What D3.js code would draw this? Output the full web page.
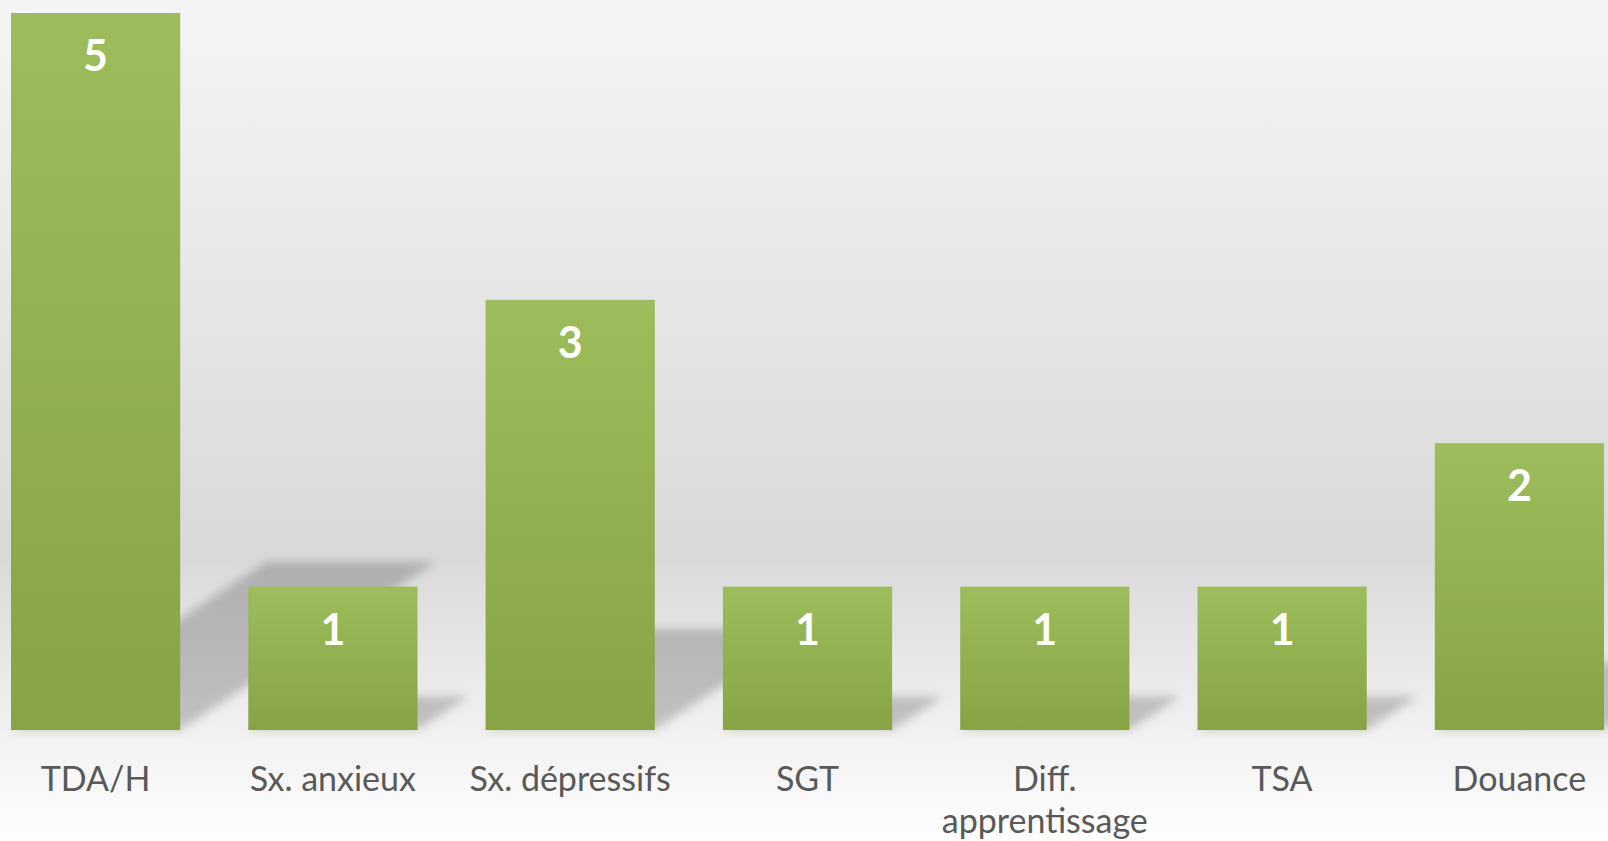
<!DOCTYPE html>
<html>
<head>
<meta charset="utf-8">
<script src="https://cdn.jsdelivr.net/npm/d3@7"></script>
<style>
  body { margin: 0; background: #ffffff; }
  svg { display: block; }
  .x-axis text { font-family: Lato, "DejaVu Sans", sans-serif; fill: #595959; }
</style>
</head>
<body>
<div class="chart"></div>
<script>
var svgWidth = 1608;
var svgHeight = 841;

// chart data
var categories = ["TDA/H", "Sx. anxieux", "Sx. dépressifs", "SGT", "Diff. apprentissage", "TSA", "Douance"];
var values = [5, 1, 3, 1, 1, 1, 2];

var margin = { top: 13, right: 4, bottom: 111, left: 11 };
var width = svgWidth - margin.left - margin.right;
var height = svgHeight - margin.top - margin.bottom;

var data = categories.map(function(c, i) { return { cat: c, value: values[i] }; });

var svg = d3.select(".chart")
  .append("svg")
  .attr("width", svgWidth)
  .attr("height", svgHeight);

var defs = svg.append("defs");

// background gradient (light top, darker behind the bars, light again below)
var bg = defs.append("linearGradient")
  .attr("id", "bgGrad")
  .attr("x1", 0).attr("y1", 0).attr("x2", 0).attr("y2", 1);
bg.append("stop").attr("offset", "0%").attr("stop-color", "#f5f5f5");
bg.append("stop").attr("offset", "66%").attr("stop-color", "#d9d9d9");
bg.append("stop").attr("offset", "87%").attr("stop-color", "#f1f1f1");
bg.append("stop").attr("offset", "100%").attr("stop-color", "#fefefe");

// bar gradient
var barGrad = defs.append("linearGradient")
  .attr("id", "barGrad")
  .attr("x1", 0).attr("y1", 0).attr("x2", 0).attr("y2", 1);
barGrad.append("stop").attr("offset", "0%").attr("stop-color", "#9dbc5b");
barGrad.append("stop").attr("offset", "100%").attr("stop-color", "#86a444");

// shadow blur
defs.append("filter")
  .attr("id", "blur")
  .attr("x", "-20%").attr("y", "-20%").attr("width", "140%").attr("height", "140%")
  .append("feGaussianBlur")
  .attr("stdDeviation", 5);

svg.append("rect")
  .attr("width", svgWidth)
  .attr("height", svgHeight)
  .attr("fill", "url(#bgGrad)");

var chartGroup = svg.append("g")
  .attr("transform", `translate(${margin.left}, ${margin.top})`);

var xBandScale = d3.scaleBand()
  .domain(categories)
  .range([0, width])
  .paddingInner(0.287)
  .paddingOuter(0);

var yLinearScale = d3.scaleLinear()
  .domain([0, 5])
  .range([height, 0]);

// perspective shadows, leaning back to the upper right
var skew = 0.357;
var squash = 0.235;
chartGroup.append("g")
  .attr("filter", "url(#blur)")
  .selectAll("path")
  .data(data)
  .enter()
  .append("path")
  .attr("fill", "rgba(0,0,0,0.2)")
  .attr("d", function(d) {
    var x0 = xBandScale(d.cat);
    var x1 = x0 + xBandScale.bandwidth();
    var h = yLinearScale(0) - yLinearScale(d.value);
    var base = yLinearScale(0);
    var top = base - squash * h;
    var dx = skew * h;
    return `M${x0},${base}L${x1},${base}L${x1 + dx},${top}L${x0 + dx},${top}Z`;
  });

// bars
chartGroup.selectAll(".bar")
  .data(data)
  .enter()
  .append("rect")
  .attr("class", "bar")
  .attr("x", d => xBandScale(d.cat))
  .attr("y", d => yLinearScale(d.value))
  .attr("width", xBandScale.bandwidth())
  .attr("height", d => yLinearScale(0) - yLinearScale(d.value))
  .attr("fill", "url(#barGrad)");

// value labels
chartGroup.selectAll(".value")
  .data(data)
  .enter()
  .append("text")
  .attr("class", "value")
  .attr("x", d => xBandScale(d.cat) + xBandScale.bandwidth() / 2)
  .attr("y", d => yLinearScale(d.value) + 58)
  .attr("text-anchor", "middle")
  .attr("font-family", "Lato, 'DejaVu Sans', sans-serif")
  .attr("font-weight", "bold")
  .attr("font-size", 43)
  .attr("fill", "#ffffff")
  .text(d => d.value);

// x axis, no line or ticks
var bottomAxis = d3.axisBottom(xBandScale).tickSize(0).tickPadding(0);
var xAxis = chartGroup.append("g")
  .attr("class", "x-axis")
  .attr("transform", `translate(0, ${height})`)
  .call(bottomAxis);
xAxis.select(".domain").remove();
xAxis.selectAll("text")
  .attr("font-size", 34)
  .attr("dy", null)
  .attr("y", 61)
  .call(wrap, xBandScale.step() - 10);

// wrap long category labels onto several lines
function wrap(texts, maxWidth) {
  texts.each(function() {
    var text = d3.select(this);
    var words = text.text().split(/\s+/);
    var y = text.attr("y");
    text.text(null);
    var line = [];
    var lineNo = 0;
    var tspan = text.append("tspan").attr("x", 0).attr("y", y);
    words.forEach(function(w) {
      line.push(w);
      tspan.text(line.join(" "));
      if (tspan.node().getComputedTextLength() > maxWidth && line.length > 1) {
        line.pop();
        tspan.text(line.join(" "));
        line = [w];
        lineNo++;
        tspan = text.append("tspan").attr("x", 0).attr("y", +y + lineNo * 42).text(w);
      }
    });
  });
}
</script>
</body>
</html>
